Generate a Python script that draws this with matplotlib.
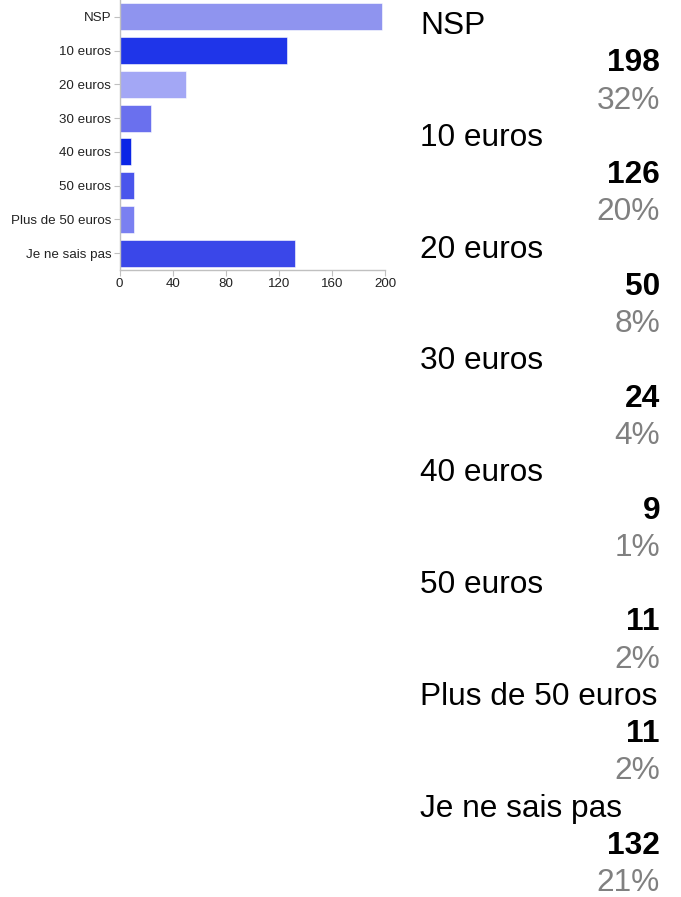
import matplotlib
matplotlib.use("Agg")
import matplotlib.pyplot as plt

categories = ["NSP", "10 euros", "20 euros", "30 euros", "40 euros",
              "50 euros", "Plus de 50 euros", "Je ne sais pas"]
counts = [198, 126, 50, 24, 9, 11, 11, 132]
percents = ["32%", "20%", "8%", "4%", "1%", "2%", "2%", "21%"]
colors = ["#8f94ef", "#1f35e9", "#a3a7f5", "#6a70ee", "#0a25e6",
          "#4a55ec", "#7a80f1", "#3a47e9"]
xticks = [0, 40, 80, 120, 160, 200]

W, H = 681, 897
plt.rcParams["font.family"] = ["Liberation Sans", "DejaVu Sans"]
fig = plt.figure(figsize=(W / 100, H / 100), dpi=100)

# bar chart, top left
ax = fig.add_axes([119.5 / W, 1 - 270 / H, (385 - 119.5) / W, 270 / H])
ypos = list(range(len(categories)))
ax.barh(ypos, counts, height=0.8, color=colors, edgecolor="white", linewidth=0.4)
ax.set_ylim(len(categories) - 0.5, -0.5)
ax.set_xlim(0, 200)
ax.set_yticks(ypos)
ax.set_yticklabels(categories)
ax.set_xticks(xticks)
ax.tick_params(axis="both", labelsize=9.6, colors="#c0c0c0", labelcolor="#222222",
               length=4, width=0.8, pad=2)
for side in ["top", "right"]:
    ax.spines[side].set_visible(False)
for side in ["left", "bottom"]:
    ax.spines[side].set_color("#c0c0c0")
    ax.spines[side].set_linewidth(1.0)

# text list, right side
step = 37.27
base = 34
fs = 22.8
for i, (cat, n, p) in enumerate(zip(categories, counts, percents)):
    y0 = base + 3 * i * step
    fig.text(420 / W, 1 - y0 / H, cat, fontsize=fs, color="#000000", va="baseline", ha="left")
    fig.text(660 / W, 1 - (y0 + step) / H, str(n), fontsize=fs, fontweight="bold",
             color="#000000", va="baseline", ha="right")
    fig.text(660 / W, 1 - (y0 + 2 * step) / H, p, fontsize=fs, color="#808080",
             va="baseline", ha="right")

fig.savefig("out.png", dpi=100)
